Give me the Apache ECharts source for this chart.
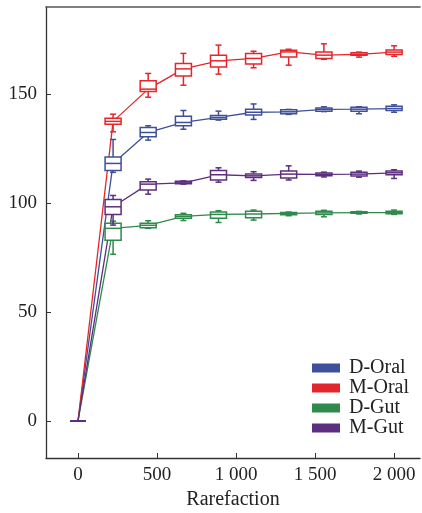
<!DOCTYPE html>
<html>
<head>
<meta charset="utf-8">
<script src="https://cdn.jsdelivr.net/npm/echarts@6/dist/echarts.min.js"></script>
<style>
  html, body { margin: 0; padding: 0; background: #fff; }
  #main { width: 422px; height: 513px; }
</style>
</head>
<body>
<div id="main"></div>
<script>
// rarefaction depths (x positions of the boxes)
var depths = [0, 222, 444, 667, 889, 1111, 1333, 1556, 1778, 2000];
var xTicks = [0, 500, 1000, 1500, 2000];
var yTicks = [0, 50, 100, 150];
var seriesNames = ['D-Oral', 'M-Oral', 'D-Gut', 'M-Gut'];
var colors = ['#3E4F9B', '#E3262B', '#2F8A4C', '#5D2E7F'];

// [min, q1, median, q3, max] per depth
var dOral = [
    [0, 0, 0, 0, 0],
    [114.1, 115, 118.2, 121.2, 129.2],
    [128.9, 130.4, 132.4, 134.7, 135.5],
    [133.9, 135.5, 137, 139.9, 142.5],
    [138.1, 138.5, 139.3, 140.2, 142.2],
    [138.4, 140.4, 141.7, 143.1, 145.5],
    [140.7, 141, 141.9, 142.8, 143],
    [142, 142.2, 143, 143.7, 144.2],
    [141, 142.1, 143.1, 144, 144.2],
    [141.7, 142.5, 143.4, 144.4, 145.1]
];
var mOral = [
    [0, 0, 0, 0, 0],
    [132.7, 136.2, 137.5, 138.9, 140.8],
    [148.6, 151.2, 152.3, 156.1, 159.5],
    [154.1, 158.3, 161.6, 164.1, 168.7],
    [159.2, 162.5, 165.3, 167.8, 172.5],
    [162.1, 163.8, 166.4, 168.7, 169.7],
    [163.3, 167, 169.4, 170.2, 170.6],
    [166, 166.4, 167.9, 169.4, 173.1],
    [167, 167.8, 168.3, 169, 169.3],
    [167.4, 168.2, 169.3, 170.3, 172.2]
];
var dGut = [
    [0, 0, 0, 0, 0],
    [76.5, 83, 88.4, 90.7, 91.7],
    [88.4, 88.7, 89.8, 90.8, 91.9],
    [92, 93, 93.9, 94.6, 95.3],
    [91.1, 93, 94.8, 95.9, 96.5],
    [92.2, 93.3, 95, 96.2, 96.8],
    [94.2, 94.6, 95.3, 95.7, 95.9],
    [93.7, 94.8, 95.5, 96.2, 96.7],
    [95, 95.3, 95.6, 96, 96.2],
    [94.8, 95.1, 95.6, 96.3, 96.8]
];
var mGut = [
    [0, 0, 0, 0, 0],
    [89.9, 94.8, 98.3, 101.7, 103.5],
    [104.1, 106, 108.7, 109.8, 111],
    [108.7, 108.9, 109.3, 110, 110.2],
    [109.6, 110.6, 113, 115, 116.2],
    [110.4, 111.8, 112.5, 113.4, 114.4],
    [110.6, 111.5, 113.3, 114.7, 117.1],
    [112, 112.5, 113.2, 113.8, 114.2],
    [111.9, 112.4, 113.3, 114.2, 114.7],
    [111.3, 113, 113.9, 114.7, 115.3]
];
var allStats = [dOral, mOral, dGut, mGut];

var FONT = '"Liberation Serif", "DejaVu Serif", serif';
var BOX_W = 16, CAP_W = 6;

function renderBox(params, api) {
    var x = api.value(0);
    var pMin = api.coord([x, api.value(1)]);
    var pQ1 = api.coord([x, api.value(2)]);
    var pMed = api.coord([x, api.value(3)]);
    var pQ3 = api.coord([x, api.value(4)]);
    var pMax = api.coord([x, api.value(5)]);
    var cx = pMed[0];
    var color = colors[params.seriesIndex - 4];
    var st = { stroke: color, lineWidth: 1.5, fill: null };
    return {
        type: 'group',
        children: [
            { type: 'line', shape: { x1: cx, y1: pQ3[1], x2: cx, y2: pMax[1] }, style: st },
            { type: 'line', shape: { x1: cx, y1: pQ1[1], x2: cx, y2: pMin[1] }, style: st },
            { type: 'line', shape: { x1: cx - CAP_W / 2, y1: pMax[1], x2: cx + CAP_W / 2, y2: pMax[1] }, style: st },
            { type: 'line', shape: { x1: cx - CAP_W / 2, y1: pMin[1], x2: cx + CAP_W / 2, y2: pMin[1] }, style: st },
            { type: 'rect', shape: { x: cx - BOX_W / 2, y: pQ3[1], width: BOX_W, height: pQ1[1] - pQ3[1] },
              style: { stroke: color, lineWidth: 1.5, fill: '#fff' } },
            { type: 'line', shape: { x1: cx - BOX_W / 2, y1: pMed[1], x2: cx + BOX_W / 2, y2: pMed[1] }, style: st }
        ]
    };
}

var series = [];
// lines through the medians
for (var i = 0; i < allStats.length; i++) {
    var pts = [];
    for (var j = 0; j < depths.length; j++) {
        pts.push([depths[j], allStats[i][j][2]]);
    }
    series.push({
        name: seriesNames[i],
        type: 'line',
        data: pts,
        showSymbol: false,
        color: colors[i],
        lineStyle: { width: 1.3, color: colors[i] },
        z: 2,
        silent: true
    });
}
// boxes
for (var i = 0; i < allStats.length; i++) {
    var rows = [];
    for (var j = 0; j < depths.length; j++) {
        rows.push([depths[j]].concat(allStats[i][j]));
    }
    series.push({
        name: seriesNames[i],
        type: 'custom',
        renderItem: renderBox,
        data: rows,
        color: colors[i],
        encode: { x: 0, y: [1, 5] },
        z: 3,
        silent: true
    });
}

var myChart = echarts.init(document.getElementById('main'));
var option = {
    animation: false,
    backgroundColor: '#fff',
    grid: { left: 46, right: 2, top: 7, bottom: 55, outerBoundsMode: 'none', containLabel: false },
    legend: {
        orient: 'vertical',
        left: 312,
        top: 358,
        padding: 0,
        itemGap: 0,
        itemWidth: 28,
        itemHeight: 9,
        icon: 'rect',
        data: seriesNames,
        textStyle: { fontFamily: FONT, fontSize: 20, color: '#222', lineHeight: 20, padding: [0, 0, 0, 4] }
    },
    xAxis: [{
        type: 'value',
        min: -202.5,
        max: 2164,
        position: 'bottom',
        name: 'Rarefaction',
        nameLocation: 'middle',
        nameGap: 31,
        nameTextStyle: { fontFamily: FONT, fontSize: 20, color: '#222' },
        splitLine: { show: false },
        axisLine: { onZero: false, lineStyle: { color: '#333', width: 1.3 } },
        axisTick: { inside: true, length: 5, customValues: xTicks, lineStyle: { color: '#333' } },
        axisLabel: {
            customValues: xTicks,
            margin: 8,
            fontFamily: FONT, fontSize: 19, color: '#222',
            formatter: function (v) {
                return v >= 1000 ? Math.floor(v / 1000) + ' ' + String(v % 1000 + 1000).slice(1) : String(v);
            }
        }
    }, {
        type: 'value',
        min: -202.5,
        max: 2164,
        position: 'top',
        axisLine: { show: true, onZero: false, lineStyle: { color: '#555', width: 1.6 } },
        axisTick: { show: false },
        axisLabel: { show: false },
        splitLine: { show: false }
    }],
    yAxis: {
        type: 'value',
        min: -17,
        max: 190,
        splitLine: { show: false },
        axisLine: { show: true, onZero: false, lineStyle: { color: '#333', width: 1.3 } },
        axisTick: { show: true, inside: true, length: 5, customValues: yTicks, lineStyle: { color: '#333' } },
        axisLabel: { customValues: yTicks, margin: 9, fontFamily: FONT, fontSize: 19, color: '#222' }
    },
    series: series
};
myChart.setOption(option);
</script>
</body>
</html>
